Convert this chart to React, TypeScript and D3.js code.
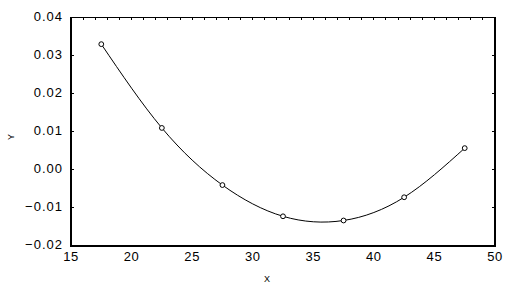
import React, { useRef, useEffect } from 'react';
import * as d3 from 'd3';

const xValues = [17.5, 22.5, 27.5, 32.5, 37.5, 42.5, 47.5];
const yValues = [0.033, 0.011, -0.004, -0.0122, -0.0133, -0.0072, 0.0057];
const xTicks = [15, 20, 25, 30, 35, 40, 45, 50];
const yTicks = [-0.02, -0.01, 0.0, 0.01, 0.02, 0.03, 0.04];
const xMinorTicks = d3.range(16, 50, 1);

export default function App() {
  const svgRef = useRef<SVGSVGElement | null>(null);

  useEffect(() => {
    if (!svgRef.current) return;
    const width = 506, height = 293;
    const left = 71, right = 495, top = 17.5, bottom = 246;
    d3.select(svgRef.current).selectAll('*').remove();
    const svg = d3.select(svgRef.current).attr('width', width).attr('height', height);

    const x = d3.scaleLinear().domain([15, 50]).range([left, right]);
    const y = d3.scaleLinear().domain([-0.02, 0.04]).range([bottom, top]);
    const font = 'Arial, "Liberation Sans", sans-serif';

    svg.append('rect').attr('width', width).attr('height', height).attr('fill', 'white');

    // frame
    svg.append('rect').attr('x', left).attr('y', top).attr('width', right - left).attr('height', bottom - top)
      .attr('fill', 'none').attr('stroke', 'black').attr('stroke-width', 1.3).attr('shape-rendering', 'crispEdges');

    // inner ticks
    xMinorTicks.forEach((t) => {
      svg.append('line').attr('x1', x(t)).attr('x2', x(t)).attr('y1', top).attr('y2', top + 2.5)
        .attr('stroke', 'black').attr('stroke-width', 1).attr('shape-rendering', 'crispEdges');
    });
    yTicks.slice(1, -1).forEach((t) => {
      svg.append('line').attr('x1', left).attr('x2', left + 3).attr('y1', y(t)).attr('y2', y(t))
        .attr('stroke', 'black').attr('stroke-width', 1).attr('shape-rendering', 'crispEdges');
      svg.append('line').attr('x1', right).attr('x2', right - 3).attr('y1', y(t)).attr('y2', y(t))
        .attr('stroke', 'black').attr('stroke-width', 1).attr('shape-rendering', 'crispEdges');
    });

    // tick labels
    xTicks.forEach((t) => {
      svg.append('text').attr('x', x(t)).attr('y', bottom + 15).attr('text-anchor', 'middle')
        .attr('font-family', font).attr('font-size', '13px').attr('letter-spacing', '0.6px').attr('fill', 'black').text(String(t));
    });
    yTicks.forEach((t) => {
      svg.append('text').attr('x', left - 8).attr('y', y(t)).attr('text-anchor', 'end').attr('dominant-baseline', 'middle')
        .attr('font-family', font).attr('font-size', '13px').attr('letter-spacing', '1px').attr('fill', 'black').text(d3.format('.2f')(t));
    });

    // axis titles
    svg.append('text').attr('x', 267).attr('y', 282).attr('text-anchor', 'middle')
      .attr('font-family', font).attr('font-size', '9px').attr('fill', 'black').text('X');
    svg.append('text').attr('transform', 'translate(14,137) rotate(-90)').attr('text-anchor', 'middle')
      .attr('font-family', font).attr('font-size', '9px').attr('fill', 'black').text('Y');

    // curve
    const pts: [number, number][] = xValues.map((v, i) => [v, yValues[i]]);
    const line = d3.line<[number, number]>().x((d) => x(d[0])).y((d) => y(d[1])).curve(d3.curveNatural);
    svg.append('path').attr('d', line(pts)).attr('fill', 'none').attr('stroke', 'black').attr('stroke-width', 1);

    // markers
    pts.forEach((d) => {
      svg.append('circle').attr('cx', x(d[0])).attr('cy', y(d[1])).attr('r', 2.4)
        .attr('fill', 'white').attr('stroke', 'black').attr('stroke-width', 1);
    });
  }, []);

  return (
    <div style={{ position: 'fixed', left: 0, top: 0 }}>
      <svg ref={svgRef} style={{ display: 'block' }} />
    </div>
  );
}
